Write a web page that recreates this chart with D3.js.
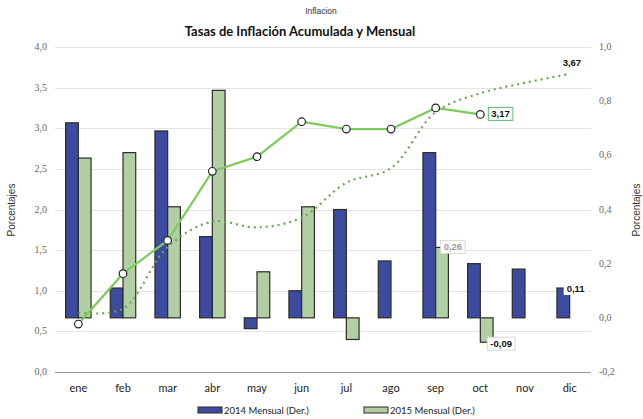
<!DOCTYPE html>
<html>
<head>
<meta charset="utf-8">
<script src="https://cdn.jsdelivr.net/npm/d3@7"></script>
<style>
  body { margin: 0; background: #fff; }
  svg { display: block; }
  .grid line { stroke: #e3e3e3; stroke-width: 1; }
  .tick-label { font-family: "Liberation Serif", serif; font-size: 10px; fill: #666; }
  .month { font-family: Lato, "Liberation Sans", sans-serif; font-size: 11px; fill: #222; }
  .axis-title { font-family: "Liberation Sans", sans-serif; font-size: 10px; fill: #333; }
  .legend { font-family: Lato, "Liberation Sans", sans-serif; font-size: 9.5px; fill: #222; }
</style>
</head>
<body>
<svg></svg>
<script>
const months = ['ene', 'feb', 'mar', 'abr', 'may', 'jun', 'jul', 'ago', 'sep', 'oct', 'nov', 'dic'];
const mensual2014 = [0.72, 0.11, 0.69, 0.30, -0.04, 0.10, 0.40, 0.21, 0.61, 0.20, 0.18, 0.11];
const mensual2015 = [0.59, 0.61, 0.41, 0.84, 0.17, 0.41, -0.08, 0.00, 0.26, -0.09];
const acumulada2014 = [0.73, 0.78, 1.54, 1.85, 1.78, 1.90, 2.33, 2.51, 3.20, 3.43, 3.56, 3.67];
const acumulada2015 = [0.59, 1.21, 1.62, 2.47, 2.65, 3.08, 2.99, 2.99, 3.25, 3.17];
const leftTicks = [0, 0.5, 1, 1.5, 2, 2.5, 3, 3.5, 4];
const rightTicks = [-0.2, 0, 0.2, 0.4, 0.6, 0.8, 1.0];
const seriesNames = ['2014 Mensual (Der.)', '2015 Mensual (Der.)'];

const width = 643;
const height = 419;
const margin = {top: 47, right: 52, bottom: 47, left: 55};

const svg = d3.select('svg')
    .attr('width', width)
    .attr('height', height);

const fmt = function(v) {
  return d3.format('.1f')(v).replace('.', ',').replace('−', '-');
};
const fmt2 = function(v) {
  return d3.format('.2f')(v).replace('.', ',').replace('−', '-');
};

const x = d3.scaleBand()
    .domain(months)
    .range([margin.left + 1, width - margin.right + 1]);
const yLeft = d3.scaleLinear()
    .domain([0, 4])
    .range([height - margin.bottom, margin.top]);
const yRight = d3.scaleLinear()
    .domain([-0.2, 1.0])
    .range([height - margin.bottom, margin.top]);
const barW = x.bandwidth() * 0.285;

// titles
svg.append('text')
    .attr('x', 321).attr('y', 14)
    .attr('text-anchor', 'middle')
    .style('font-family', 'Liberation Sans, sans-serif')
    .style('font-size', '8.5px')
    .style('fill', '#333')
    .text('Inflacion');
svg.append('text')
    .attr('x', 300).attr('y', 36)
    .attr('text-anchor', 'middle')
    .style('font-family', 'Lato, sans-serif')
    .style('font-size', '13px')
    .style('font-weight', 'bold')
    .style('fill', '#111')
    .text('Tasas de Inflación Acumulada y Mensual');

// gridlines
svg.append('g').attr('class', 'grid')
    .selectAll('line')
    .data(leftTicks.slice(1))
    .enter().append('line')
    .attr('x1', margin.left)
    .attr('x2', width - margin.right)
    .attr('y1', function(d) {
      return Math.round(yLeft(d)) + 0.5;
    })
    .attr('y2', function(d) {
      return Math.round(yLeft(d)) + 0.5;
    });
svg.append('line')
    .attr('x1', margin.left)
    .attr('x2', width - margin.right)
    .attr('y1', Math.round(yLeft(0)) + 0.5)
    .attr('y2', Math.round(yLeft(0)) + 0.5)
    .attr('stroke', '#999');

// left axis labels
svg.append('g')
    .selectAll('text')
    .data(leftTicks)
    .enter().append('text')
    .attr('class', 'tick-label')
    .attr('x', 47)
    .attr('y', function(d) {
      return yLeft(d) + 3;
    })
    .attr('text-anchor', 'end')
    .text(fmt);

// right axis labels
svg.append('g')
    .selectAll('text')
    .data(rightTicks)
    .enter().append('text')
    .attr('class', 'tick-label')
    .attr('x', 599)
    .attr('y', function(d) {
      return yRight(d) + 3;
    })
    .text(fmt);

svg.append('text')
    .attr('class', 'axis-title')
    .attr('transform', 'translate(15,' + 210 + ') rotate(-90)')
    .attr('text-anchor', 'middle')
    .text('Porcentajes');
svg.append('text')
    .attr('class', 'axis-title')
    .attr('transform', 'translate(640,' + 210 + ') rotate(-90)')
    .attr('text-anchor', 'middle')
    .text('Porcentajes');

// month labels
svg.append('g')
    .selectAll('text')
    .data(months)
    .enter().append('text')
    .attr('class', 'month')
    .attr('x', function(d) {
      return x(d) + x.bandwidth() / 2;
    })
    .attr('y', 392)
    .attr('text-anchor', 'middle')
    .text(function(d) {
      return d;
    });

// bars
const zero = yRight(0);
function drawBars(values, offset, fill) {
  svg.append('g')
      .selectAll('rect')
      .data(values)
      .enter().append('rect')
      .attr('x', function(d, i) {
        return x(months[i]) + x.bandwidth() / 2 + offset;
      })
      .attr('width', barW)
      .attr('y', function(d) {
        return Math.min(yRight(d), zero);
      })
      .attr('height', function(d) {
        return Math.abs(yRight(d) - zero);
      })
      .attr('fill', fill)
      .attr('stroke', '#2b2b2b')
      .attr('stroke-width', 1.2);
}
drawBars(mensual2014, -barW, '#3d4b9e');
drawBars(mensual2015, 0, '#b2cfa3');

// accumulated lines
const cx = function(d, i) {
  return x(months[i]) + x.bandwidth() / 2;
};
const dotted = d3.line()
    .x(cx)
    .y(function(d) {
      return yLeft(d);
    })
    .curve(d3.curveCatmullRom);
svg.append('path')
    .datum(acumulada2014)
    .attr('d', dotted)
    .attr('fill', 'none')
    .attr('stroke', '#6aa84f')
    .attr('stroke-width', 2.2)
    .attr('stroke-dasharray', '2,4');

const solid = d3.line()
    .x(cx)
    .y(function(d) {
      return yLeft(d);
    });
svg.append('path')
    .datum(acumulada2015)
    .attr('d', solid)
    .attr('fill', 'none')
    .attr('stroke', '#7ccb5c')
    .attr('stroke-width', 2.2);
svg.append('g')
    .selectAll('circle')
    .data(acumulada2015)
    .enter().append('circle')
    .attr('cx', cx)
    .attr('cy', function(d) {
      return yLeft(d);
    })
    .attr('r', 3.8)
    .attr('fill', '#fff')
    .attr('stroke', '#222')
    .attr('stroke-width', 1.2);

// data labels
function label(tx, ty, text, opts) {
  const g = svg.append('g');
  const t = g.append('text')
      .attr('x', tx).attr('y', ty)
      .style('font-family', 'Liberation Sans, sans-serif')
      .style('font-size', '9.5px')
      .style('font-weight', 'bold')
      .style('fill', opts.color || '#111')
      .text(text);
  const bb = t.node().getBBox();
  g.insert('rect', 'text')
      .attr('x', bb.x - 3).attr('y', bb.y - 1)
      .attr('width', bb.width + 6).attr('height', bb.height + 2)
      .attr('fill', '#fff')
      .attr('stroke', opts.border || 'none')
      .attr('stroke-width', 1);
}
const lastIdx = acumulada2015.length - 1;
label(cx(0, lastIdx) + 11, yLeft(acumulada2015[lastIdx]) + 3, fmt2(acumulada2015[lastIdx]), {border: '#5cbf7a'});
label(cx(0, 11) - 7, yLeft(acumulada2014[11]) - 8, fmt2(acumulada2014[11]), {});
label(cx(0, 8) + 8, yRight(mensual2015[8]) + 3, fmt2(mensual2015[8]), {border: '#d8d8d8', color: '#999'});
label(cx(0, 9) + 10, yRight(mensual2015[9]) + 5, fmt2(mensual2015[9]), {border: '#d8d8d8'});
label(cx(0, 11) - 3, yRight(mensual2014[11]) + 4, fmt2(mensual2014[11]), {});

// legend
const legend = svg.append('g');
const legendX = [198, 364];
legend.selectAll('rect')
    .data(seriesNames)
    .enter().append('rect')
    .attr('x', function(d, i) {
      return legendX[i];
    })
    .attr('y', 407)
    .attr('width', 24)
    .attr('height', 6)
    .attr('fill', function(d, i) {
      return i === 0 ? '#3d4b9e' : '#b2cfa3';
    })
    .attr('stroke', '#2b2b2b')
    .attr('stroke-width', 1);
legend.selectAll('text')
    .data(seriesNames)
    .enter().append('text')
    .attr('class', 'legend')
    .attr('x', function(d, i) {
      return legendX[i] + 26;
    })
    .attr('y', 413.5)
    .text(function(d) {
      return d;
    });
</script>
</body>
</html>
